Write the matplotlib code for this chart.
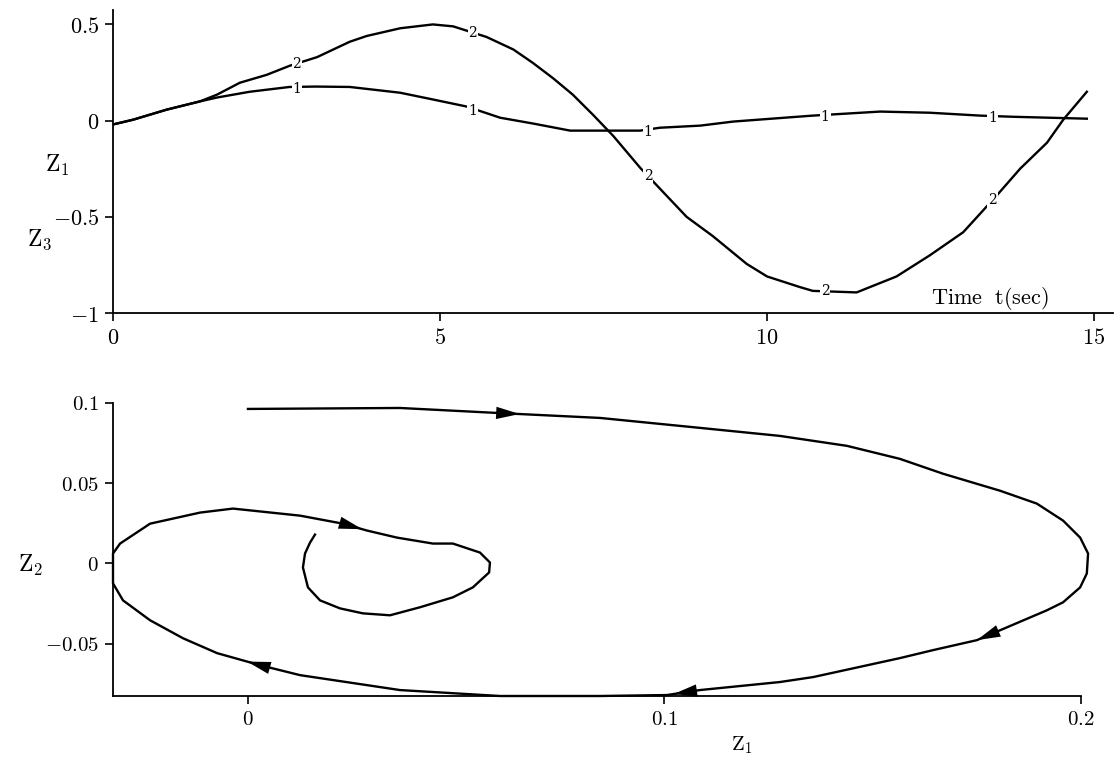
import numpy as np
import matplotlib
matplotlib.use("Agg")
import matplotlib.pyplot as plt

plt.rcParams['mathtext.fontset'] = 'cm'
plt.rcParams['font.family'] = 'serif'
plt.rcParams['font.serif'] = ['DejaVu Serif']

# ---------------- top panel data ----------------
t1 = [0.0, 0.31, 0.82, 1.33, 1.59, 2.09, 2.7, 3.1, 3.62, 4.39, 4.89, 5.41, 5.92,
      6.42, 6.99, 8.06, 8.36, 8.98, 9.48, 10.5, 10.7, 11.73, 12.49, 13.26, 13.76, 14.89]
z1 = [-0.02, 0.005, 0.057, 0.10, 0.12, 0.15, 0.175, 0.177, 0.175, 0.145, 0.11, 0.073, 0.015,
      -0.015, -0.052, -0.052, -0.037, -0.026, -0.005, 0.021, 0.026, 0.047, 0.041, 0.026, 0.02, 0.01]

t3 = [0.0, 0.31, 0.82, 1.33, 1.59, 1.94, 2.35, 2.7, 3.12, 3.62, 3.88, 4.39, 4.89, 5.2,
      5.71, 6.12, 6.42, 6.73, 7.03, 7.34, 7.65, 8.06, 8.77, 9.17, 9.69, 10.0, 10.5, 10.7,
      11.37, 11.98, 12.49, 13.0, 13.51, 13.87, 14.28, 14.53, 14.89]
z3 = [-0.02, 0.005, 0.057, 0.10, 0.135, 0.197, 0.238, 0.285, 0.33, 0.41, 0.44, 0.48, 0.50, 0.49,
      0.435, 0.37, 0.30, 0.22, 0.135, 0.03, -0.08, -0.245, -0.50, -0.60, -0.745, -0.81, -0.865, -0.885,
      -0.893, -0.81, -0.70, -0.58, -0.39, -0.25, -0.115, 0.005, 0.15]

label_t = [2.81, 5.5, 8.18, 10.89, 13.45]

top_xticks = [0, 5, 10, 15]
top_xticklabels = ['$0$', '$5$', '$10$', '$15$']
top_yticks = [-1, -0.5, 0, 0.5]
top_yticklabels = ['$-1$', '$-0.5$', '$0$', '$0.5$']

# ---------------- bottom panel data (phase plane Z1-Z2) ----------------
ph_z1 = [0.0, 0.0365, 0.0598, 0.0845, 0.1085, 0.1277, 0.1438, 0.1565, 0.1669, 0.1806,
         0.1894, 0.1957, 0.1998, 0.2017, 0.2014, 0.1998, 0.1957, 0.1918, 0.1806, 0.1750,
         0.1645, 0.1565, 0.1357, 0.1277, 0.1085, 0.1006, 0.0845, 0.0605, 0.0365, 0.0125,
         0.0029, -0.0074, -0.0156, -0.0235, -0.0300, -0.0324, -0.0324, -0.0307, -0.0235, -0.0115,
         -0.0036, 0.0125, 0.0228, 0.0286, 0.0358, 0.0444, 0.0492, 0.0557, 0.0581, 0.0579,
         0.0540, 0.0492, 0.0413, 0.0341, 0.0276, 0.0221, 0.0173, 0.0144, 0.0132, 0.0137,
         0.0149, 0.0161]
ph_z2 = [0.0963, 0.0969, 0.0938, 0.0907, 0.0845, 0.0795, 0.0733, 0.0652, 0.0559, 0.0453,
         0.0373, 0.0267, 0.0161, 0.0062, -0.0062, -0.0149, -0.0242, -0.0292, -0.0416, -0.0478,
         -0.0540, -0.0590, -0.0708, -0.0739, -0.0789, -0.0820, -0.0826, -0.0826, -0.0789, -0.0696,
         -0.0634, -0.0559, -0.0466, -0.0354, -0.0230, -0.0124, 0.0062, 0.0124, 0.0248, 0.0317,
         0.0342, 0.0298, 0.0248, 0.0205, 0.0161, 0.0124, 0.0124, 0.0068, 0.0006, -0.0056,
         -0.0149, -0.0211, -0.0273, -0.0323, -0.0311, -0.0280, -0.0230, -0.0149, -0.0025, 0.0062,
         0.0130, 0.0180]
# arrow heads: (segment start index, fraction along segment where the tip sits)
arrow_seg = [(2, 0.22), (18, 1.0), (24, 0.8), (30, 0.3), (42, 0.8)]

bot_xticks = [0, 0.1, 0.2]
bot_xticklabels = ['$0$', '$0.1$', '$0.2$']
bot_yticks = [-0.05, 0, 0.05, 0.1]
bot_yticklabels = ['$-0.05$', '$0$', '$0.05$', '$0.1$']

fig = plt.figure(figsize=(11.19, 7.58), dpi=100)
W, H = 1119, 758

def style(ax, fs):
    for s in ['top', 'right']:
        ax.spines[s].set_visible(False)
    for s in ['left', 'bottom']:
        ax.spines[s].set_linewidth(1.3)
    ax.tick_params(direction='out', length=6, width=1.2, labelsize=fs, pad=4)

# top axes
ax1 = fig.add_axes([113 / W, 1 - 313 / H, (1113 - 113) / W, (313 - 10) / H])
ax1.plot(t1, z1, color='k', lw=1.7)
ax1.plot(t3, z3, color='k', lw=1.7)
for tt in label_t:
    v1 = np.interp(tt, t1, z1)
    v3 = np.interp(tt, t3, z3)
    ax1.text(tt, v1 - 0.012, '1', fontsize=10, ha='center', va='center',
             bbox=dict(facecolor='white', edgecolor='none', pad=0.6))
    ax1.text(tt, v3, '2', fontsize=10, ha='center', va='center',
             bbox=dict(facecolor='white', edgecolor='none', pad=0.6))
ax1.set_xlim(0, 15.29)
ax1.set_ylim(-1, 0.575)
ax1.set_xticks(top_xticks)
ax1.set_xticklabels(top_xticklabels)
ax1.set_yticks(top_yticks)
ax1.set_yticklabels(top_yticklabels)
style(ax1, 16)
fig.text(57 / W, 1 - 165 / H, r'$\mathrm{Z}_1$', fontsize=17, ha='center', va='center')
fig.text(40 / W, 1 - 240 / H, r'$\mathrm{Z}_3$', fontsize=17, ha='center', va='center')
fig.text(990 / W, 1 - 298 / H, r'$\mathrm{Time}\ \ \mathrm{t(sec)}$', fontsize=16,
         ha='center', va='center')

# bottom axes
ax2 = fig.add_axes([113 / W, 1 - 696 / H, (1081 - 113) / W, (696 - 403) / H])
ax2.set_xlim(-0.0324, 0.2)
ax2.set_ylim(-0.0826, 0.1)
ax2.plot(ph_z1, ph_z2, color='k', lw=1.7, clip_on=False)
for i, f in arrow_seg:
    x0, y0 = ph_z1[i], ph_z2[i]
    x1, y1 = ph_z1[i + 1], ph_z2[i + 1]
    tip = (x0 + f * (x1 - x0), y0 + f * (y1 - y0))
    d = ax2.transData.transform((x1, y1)) - ax2.transData.transform((x0, y0))
    d = d / np.hypot(*d)
    ax2.annotate('', xy=tip, xytext=(-d[0] * 25, -d[1] * 25), textcoords='offset points',
                 arrowprops=dict(arrowstyle='-|>,head_length=0.65,head_width=0.17',
                                 color='k', lw=0.01, mutation_scale=26,
                                 shrinkA=0, shrinkB=0))
ax2.set_xticks(bot_xticks)
ax2.set_xticklabels(bot_xticklabels)
ax2.set_yticks(bot_yticks)
ax2.set_yticklabels(bot_yticklabels)
style(ax2, 15)
fig.text(30 / W, 1 - 565 / H, r'$\mathrm{Z}_2$', fontsize=17, ha='center', va='center')
fig.text(742 / W, 1 - 745 / H, r'$\mathrm{Z}_1$', fontsize=15, ha='center', va='center')

fig.savefig('out.png', dpi=100)
